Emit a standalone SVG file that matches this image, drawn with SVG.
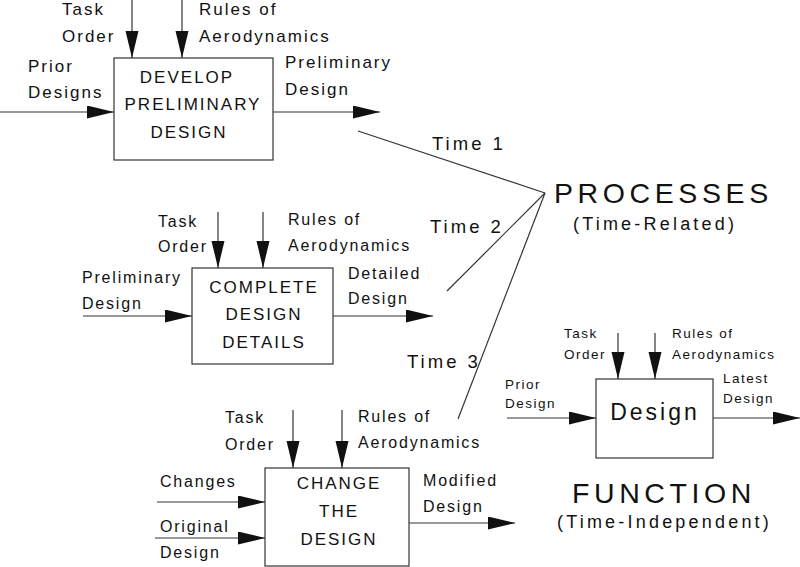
<svg xmlns="http://www.w3.org/2000/svg" width="800" height="567" viewBox="0 0 800 567">
<style>
text{font-family:"Liberation Sans",Arial,sans-serif;fill:#111}
.box{fill:#fff;stroke:#333;stroke-width:1.2}
.ln{stroke:#333;stroke-width:1.2;fill:none}
.arr{stroke:#333;stroke-width:1.2;fill:none;marker-end:url(#ah)}
.l17{font-size:17px;letter-spacing:2px}
.l16{font-size:16px;letter-spacing:1.8px}
.l13{font-size:13.5px;letter-spacing:1.5px}
.bt{font-size:17px;letter-spacing:2px;text-anchor:middle}
.big{font-size:28.5px;letter-spacing:4.6px}
.sub{font-size:18px;letter-spacing:3.2px}
.time{font-size:18.5px;letter-spacing:3px}
</style>
<defs>
<marker id="ah" markerUnits="userSpaceOnUse" markerWidth="28" markerHeight="14" refX="27" refY="6.5" orient="auto"><path d="M0,0 L27,6.5 L0,13 Z" fill="#111"/></marker>
</defs>
<rect width="800" height="567" fill="#fff"/>
<g id="connectors">
<line class="arr" x1="132" y1="0" x2="132" y2="58"/>
<line class="arr" x1="182" y1="0" x2="182" y2="58"/>
<line class="arr" x1="0" y1="112" x2="114" y2="112"/>
<line class="arr" x1="273" y1="112" x2="380" y2="112"/>
<line class="arr" x1="218" y1="212" x2="218" y2="268"/>
<line class="arr" x1="263" y1="212" x2="263" y2="268"/>
<line class="arr" x1="83" y1="316" x2="192" y2="316"/>
<line class="arr" x1="333" y1="316" x2="433" y2="316"/>
<line class="arr" x1="293" y1="410" x2="293" y2="468"/>
<line class="arr" x1="342" y1="410" x2="342" y2="468"/>
<line class="arr" x1="157" y1="502" x2="265" y2="502"/>
<line class="arr" x1="155" y1="538" x2="265" y2="538"/>
<line class="arr" x1="409" y1="523" x2="515" y2="523"/>
<line class="arr" x1="618" y1="333" x2="618" y2="379"/>
<line class="arr" x1="655" y1="333" x2="655" y2="379"/>
<line class="arr" x1="507" y1="418" x2="596" y2="418"/>
<line class="arr" x1="713" y1="418" x2="800" y2="418"/>
<line class="ln" x1="358" y1="131" x2="545" y2="193"/>
<line class="ln" x1="447" y1="291" x2="545" y2="193"/>
<line class="ln" x1="458" y1="419" x2="545" y2="193"/>
</g>
<g id="labels">
<text class="l17" x="62" y="15">Task</text>
<text class="l17" x="62" y="42">Order</text>
<text class="l17" x="199" y="15">Rules of</text>
<text class="l17" x="199" y="42">Aerodynamics</text>
<text class="l17" x="28" y="72">Prior</text>
<text class="l17" x="28" y="98">Designs</text>
<text class="l17" x="285" y="68">Preliminary</text>
<text class="l17" x="285" y="95">Design</text>
<text class="l16" x="158" y="227">Task</text>
<text class="l16" x="158" y="252">Order</text>
<text class="l16" x="288" y="225">Rules of</text>
<text class="l16" x="288" y="251">Aerodynamics</text>
<text class="l16" x="82" y="283">Preliminary</text>
<text class="l16" x="82" y="309">Design</text>
<text class="l16" x="348" y="279">Detailed</text>
<text class="l16" x="348" y="304">Design</text>
<text class="l16" x="225" y="423">Task</text>
<text class="l16" x="225" y="450">Order</text>
<text class="l16" x="358" y="422">Rules of</text>
<text class="l16" x="358" y="448">Aerodynamics</text>
<text class="l16" x="160" y="487">Changes</text>
<text class="l16" x="160" y="532">Original</text>
<text class="l16" x="160" y="558">Design</text>
<text class="l16" x="423" y="486">Modified</text>
<text class="l16" x="423" y="512">Design</text>
<text class="l13" x="564" y="338">Task</text>
<text class="l13" x="564" y="359">Order</text>
<text class="l13" x="672" y="338">Rules of</text>
<text class="l13" x="672" y="359">Aerodynamics</text>
<text class="l13" x="505" y="389">Prior</text>
<text class="l13" x="505" y="408">Design</text>
<text class="l13" x="723" y="383">Latest</text>
<text class="l13" x="723" y="403">Design</text>
<text class="time" x="432" y="150">Time 1</text>
<text class="time" x="430" y="233">Time 2</text>
<text class="time" x="407" y="368">Time 3</text>
</g>
<g id="develop-preliminary-design">
<rect class="box" x="114" y="58" width="159" height="102"/>
<text class="bt" x="187" y="83">DEVELOP</text>
<text class="bt" x="193" y="110">PRELIMINARY</text>
<text class="bt" x="189" y="138">DESIGN</text>
</g>
<g id="complete-design-details">
<rect class="box" x="192" y="268" width="141" height="96"/>
<text class="bt" x="264" y="293">COMPLETE</text>
<text class="bt" x="264" y="320">DESIGN</text>
<text class="bt" x="264" y="348">DETAILS</text>
</g>
<g id="change-the-design">
<rect class="box" x="265" y="468" width="144" height="98"/>
<text class="bt" x="339" y="489">CHANGE</text>
<text class="bt" x="339" y="517">THE</text>
<text class="bt" x="339" y="545">DESIGN</text>
</g>
<g id="design">
<rect class="box" x="596" y="379" width="117" height="79"/>
<text x="655" y="420" style="font-size:23px;letter-spacing:3px;text-anchor:middle">Design</text>
</g>
<g id="processes">
<text class="big" x="554" y="203">PROCESSES</text>
<text class="sub" x="573" y="230">(Time-Related)</text>
</g>
<g id="function">
<text class="big" x="572" y="503">FUNCTION</text>
<text class="sub" x="557" y="528">(Time-Independent)</text>
</g>
</svg>
